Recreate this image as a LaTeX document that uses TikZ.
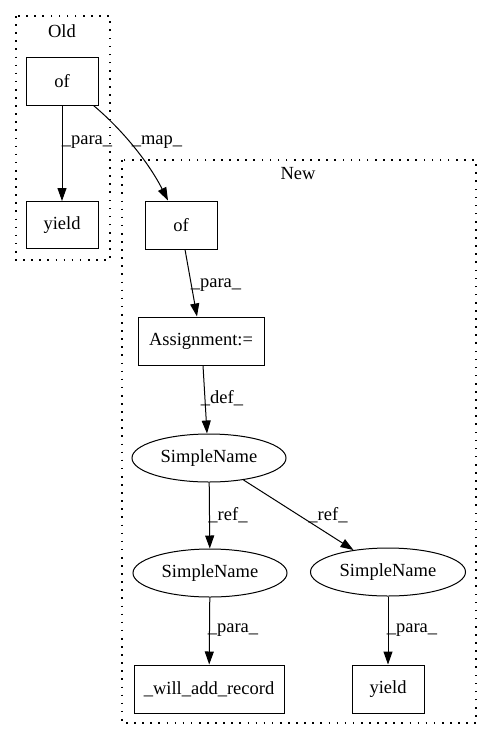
\documentclass[tikz,border=0pt]{standalone}
\usepackage{fontspec}
\setmainfont{Liberation Serif}
\usetikzlibrary{arrows.meta,shapes.geometric}
\begin{document}
\begin{tikzpicture}[x=1pt,y=-1pt,
  every node/.style={font=\fontsize{18.5}{21}\selectfont},
  box/.style={draw,line width=1pt,rectangle,inner sep=0pt,minimum height=48pt},
  oval/.style={draw,line width=1pt,ellipse,inner sep=0pt,minimum width=154pt,minimum height=48pt},
  cluster/.style={draw,line width=1.1pt,dash pattern=on 1.6pt off 6.5pt},
  edge/.style={draw,line width=1pt,-{Triangle[length=13pt,width=9pt]}},
  lbl/.style={inner sep=0pt}]
\useasboundingbox (0,0) rectangle (492,740);
% clusters
\draw[cluster] (16,16) rectangle (110,260);
\node[lbl] (oldlbl) at (62,31) {Old};
\draw[cluster] (122,160) rectangle (476,723);
\node[lbl] (newlbl) at (298,174) {New};
% nodes
\node[box,minimum width=72pt] (oof) at (62,81) {of};
\node[box,minimum width=72pt,minimum height=47pt] (oyield) at (62,225) {yield};
\node[box,minimum width=72pt] (nof) at (181,225) {of};
\node[box,minimum width=126pt] (asg) at (201,341) {Assignment:=};
\node[oval] (sn) at (209,458) {SimpleName};
\node[oval] (snl) at (210,573) {SimpleName};
\node[oval,minimum width=155pt] (snr) at (388,572) {SimpleName};
\node[box,minimum width=150pt] (war) at (209,689) {\_will\_add\_record};
\node[box,minimum width=72pt] (nyield) at (388,689) {yield};
% edge end points
\coordinate (s1) at ([xshift=-5pt]oof.south east);
\coordinate (t1) at ([xshift=-13pt]nof.north);
\coordinate (s2) at ([xshift=4pt]nof.south);
\coordinate (t2) at ([xshift=-4pt]asg.north);
% edges
\draw[edge] (oof) -- (oyield);
\node[lbl] (l1) at (87,142) {\_para\_};
\draw[edge] (s1) .. controls (125,132) and (150,165) .. (t1);
\node[lbl] (l2) at (157,142) {\_map\_};
\draw[edge] (s2) -- (t2);
\node[lbl] (l3) at (216,285) {\_para\_};
\draw[edge] ([xshift=2pt]asg.south) -- ([xshift=-2pt]sn.north);
\node[lbl] (l4) at (222,398) {\_def\_};
\draw[edge] (sn) -- (snl);
\node[lbl] (l5) at (228,515) {\_ref\_};
\draw[edge] (sn) -- (snr);
\node[lbl] (l6) at (328,515) {\_ref\_};
\draw[edge] (snl) -- (war);
\node[lbl] (l7) at (233,630) {\_para\_};
\draw[edge] (snr) -- (nyield);
\node[lbl] (l8) at (412,630) {\_para\_};
\end{tikzpicture}
\end{document}
